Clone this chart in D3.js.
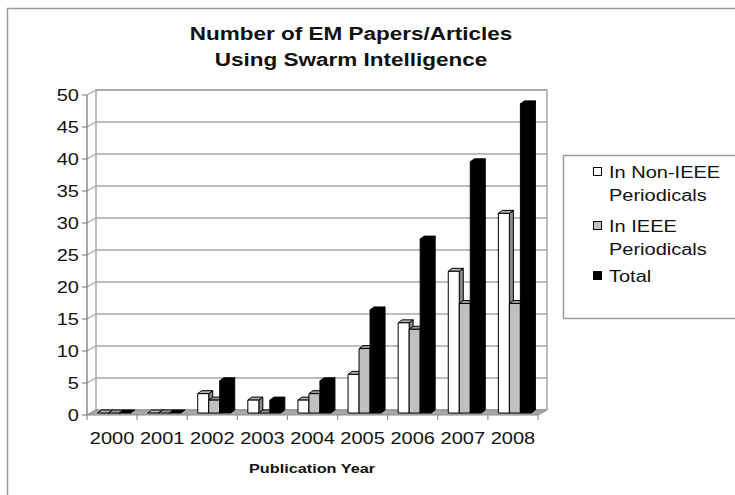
<!DOCTYPE html>
<html>
<head>
<meta charset="utf-8">
<script src="https://cdn.jsdelivr.net/npm/d3@7"></script>
<style>
  body { margin: 0; background: #fff; }
  text { font-family: "Liberation Sans", Arial, sans-serif; fill: #111; }
</style>
</head>
<body>
<div id="chart"></div>
<script>
// values
var years = ["2000", "2001", "2002", "2003", "2004", "2005", "2006", "2007", "2008"];
var nonIeee = [0, 0, 3, 2, 2, 6, 14, 22, 31];
var ieee = [0, 0, 2, 0, 3, 10, 13, 17, 17];
var total = [0, 0, 5, 2, 5, 16, 27, 39, 48];
var yTicks = [0, 5, 10, 15, 20, 25, 30, 35, 40, 45, 50];
var seriesNames = ["In Non-IEEE Periodicals", "In IEEE Periodicals", "Total"];

var width = 735, height = 495;
var SX = 1.25; // text in the picture is stretched sideways

var series = [
    {key: "non", values: nonIeee, front: "#ffffff", top: "#b0b0b0", side: "#8a8a8a"},
    {key: "ieee", values: ieee, front: "#c0c0c0", top: "#9a9a9a", side: "#7a7a7a"},
    {key: "tot", values: total, front: "#000000", top: "#000000", side: "#000000"}
];

var svg = d3.select("#chart").append("svg")
    .attr("width", width)
    .attr("height", height);

// outer chart frame
svg.append("path")
    .attr("d", "M7.5,495 L7.5,8.5 L735,8.5")
    .attr("fill", "none")
    .attr("stroke", "#9a9a9a")
    .attr("stroke-width", 1.5);

// scales
var DX = 9; // depth offset of back wall
var x = d3.scaleBand().domain(years).range([87, 538]);
var xs = d3.scaleBand().domain(series.map(d => d.key)).range([10.5, 43.5]);
var yBack = d3.scaleLinear().domain([0, 50]).range([410, 90]);
var yFront = d3.scaleLinear().domain([0, 50]).range([415, 95]);
var yBar = d3.scaleLinear().domain([0, 50]).range([413, 91]);

var x0 = x.range()[0], x1 = x.range()[1];

// back wall gridlines
svg.append("g").selectAll("line")
    .data(yTicks)
    .enter()
    .append("line")
    .attr("x1", x0 + DX).attr("x2", x1 + DX)
    .attr("y1", d => yBack(d)).attr("y2", d => yBack(d))
    .attr("stroke", "#a6a6a6")
    .attr("stroke-width", 1.5);

// side wall gridlines (left)
svg.append("g").selectAll("line")
    .data(yTicks)
    .enter()
    .append("line")
    .attr("x1", x0).attr("x2", x0 + DX)
    .attr("y1", d => yFront(d)).attr("y2", d => yBack(d))
    .attr("stroke", "#a6a6a6")
    .attr("stroke-width", 1.2);

// back wall edges
svg.append("path")
    .attr("d", "M" + (x0 + DX) + "," + yBack(0) + " L" + (x0 + DX) + "," + yBack(50) +
        " L" + (x1 + DX) + "," + yBack(50) + " L" + (x1 + DX) + "," + yBack(0))
    .attr("fill", "none")
    .attr("stroke", "#a6a6a6")
    .attr("stroke-width", 1.5);

// floor
svg.append("path")
    .attr("d", "M" + x0 + "," + yFront(0) + " L" + x1 + "," + yFront(0) +
        " L" + (x1 + DX) + "," + yBack(0) + " L" + (x0 + DX) + "," + yBack(0) + "Z")
    .attr("fill", "#a8a8a8")
    .attr("stroke", "#8c8c8c")
    .attr("stroke-width", 1);

// bars (3d columns)
var d = 4, dd = 3;
var bars = [];
years.forEach(function(yr, i) {
    series.forEach(function(s) {
        bars.push({year: yr, s: s, v: s.values[i]});
    });
});

var barG = svg.append("g").selectAll("g")
    .data(bars)
    .enter()
    .append("g")
    .attr("stroke", "#000")
    .attr("stroke-width", 1)
    .attr("stroke-linejoin", "round");

function bx(b) { return x(b.year) + xs(b.s.key); }
var bw = xs.bandwidth();

barG.append("path") // side
    .attr("d", function(b) {
        var xl = bx(b) + bw, yt = yBar(b.v), yb = yBar(0);
        return "M" + xl + "," + yt + " L" + (xl + d) + "," + (yt - dd) + " L" + (xl + d) + "," + (yb - dd) + " L" + xl + "," + yb + "Z";
    })
    .attr("fill", b => b.s.side);

barG.append("path") // top
    .attr("d", function(b) {
        var xl = bx(b), yt = yBar(b.v);
        return "M" + xl + "," + yt + " L" + (xl + d) + "," + (yt - dd) + " L" + (xl + bw + d) + "," + (yt - dd) + " L" + (xl + bw) + "," + yt + "Z";
    })
    .attr("fill", b => b.s.top);

barG.filter(b => b.v > 0).append("rect") // front
    .attr("x", b => bx(b))
    .attr("y", b => yBar(b.v))
    .attr("width", bw)
    .attr("height", b => yBar(0) - yBar(b.v))
    .attr("fill", b => b.s.front);

// front vertical axis
svg.append("line")
    .attr("x1", x0).attr("x2", x0)
    .attr("y1", yFront(0)).attr("y2", yFront(50))
    .attr("stroke", "#8c8c8c")
    .attr("stroke-width", 1.5);

svg.append("g").selectAll("line")
    .data(yTicks)
    .enter()
    .append("line")
    .attr("x1", x0 - 5).attr("x2", x0)
    .attr("y1", d => yFront(d)).attr("y2", d => yFront(d))
    .attr("stroke", "#8c8c8c")
    .attr("stroke-width", 1.2);

svg.append("g").selectAll("text")
    .data(yTicks)
    .enter()
    .append("text")
    .attr("transform", d => "translate(79," + (yFront(d) + 5.5) + ") scale(" + SX + ",1)")
    .attr("text-anchor", "end")
    .style("font-size", "16px")
    .text(d => d);

// category ticks along the front edge
var bounds = years.map(yr => x(yr)).concat([x1]);
svg.append("g").selectAll("line")
    .data(bounds)
    .enter()
    .append("line")
    .attr("x1", d => d).attr("x2", d => d)
    .attr("y1", yFront(0)).attr("y2", yFront(0) + 5)
    .attr("stroke", "#8c8c8c")
    .attr("stroke-width", 1.2);

svg.append("g").selectAll("text")
    .data(years)
    .enter()
    .append("text")
    .attr("transform", d => "translate(" + (x(d) + x.bandwidth() / 2) + ",444) scale(" + SX + ",1)")
    .attr("text-anchor", "middle")
    .style("font-size", "16px")
    .text(d => d);

// axis title
svg.append("text")
    .attr("transform", "translate(312,473) scale(" + SX + ",1)")
    .attr("text-anchor", "middle")
    .style("font-size", "13px")
    .style("font-weight", "bold")
    .text("Publication Year");

// chart title
svg.append("text")
    .attr("transform", "translate(351,40) scale(" + SX + ",1)")
    .attr("text-anchor", "middle")
    .style("font-size", "18px")
    .style("font-weight", "bold")
    .text("Number of EM Papers/Articles");
svg.append("text")
    .attr("transform", "translate(351,66) scale(" + SX + ",1)")
    .attr("text-anchor", "middle")
    .style("font-size", "18px")
    .style("font-weight", "bold")
    .text("Using Swarm Intelligence");

// legend
var legend = svg.append("g");
legend.append("rect")
    .attr("x", 563.5).attr("y", 155.5)
    .attr("width", 200).attr("height", 163)
    .attr("fill", "#fff")
    .attr("stroke", "#9a9a9a")
    .attr("stroke-width", 1.5);

var legendItems = [
    {lines: ["In Non-IEEE", "Periodicals"], y: 172, fill: "#ffffff"},
    {lines: ["In IEEE", "Periodicals"], y: 226, fill: "#c0c0c0"},
    {lines: ["Total"], y: 276, fill: "#000000"}
];
legendItems.forEach(function(it, i) {
    legend.append("rect")
        .attr("x", 593.5).attr("y", it.y - 4.5)
        .attr("width", 8).attr("height", 8)
        .attr("fill", it.fill)
        .attr("stroke", "#000")
        .attr("stroke-width", 1);
    it.lines.forEach(function(l, j) {
        legend.append("text")
            .attr("transform", "translate(609," + (it.y + 6 + j * 23) + ") scale(" + SX + ",1)")
            .style("font-size", "16px")
            .text(l);
    });
});
</script>
</body>
</html>
